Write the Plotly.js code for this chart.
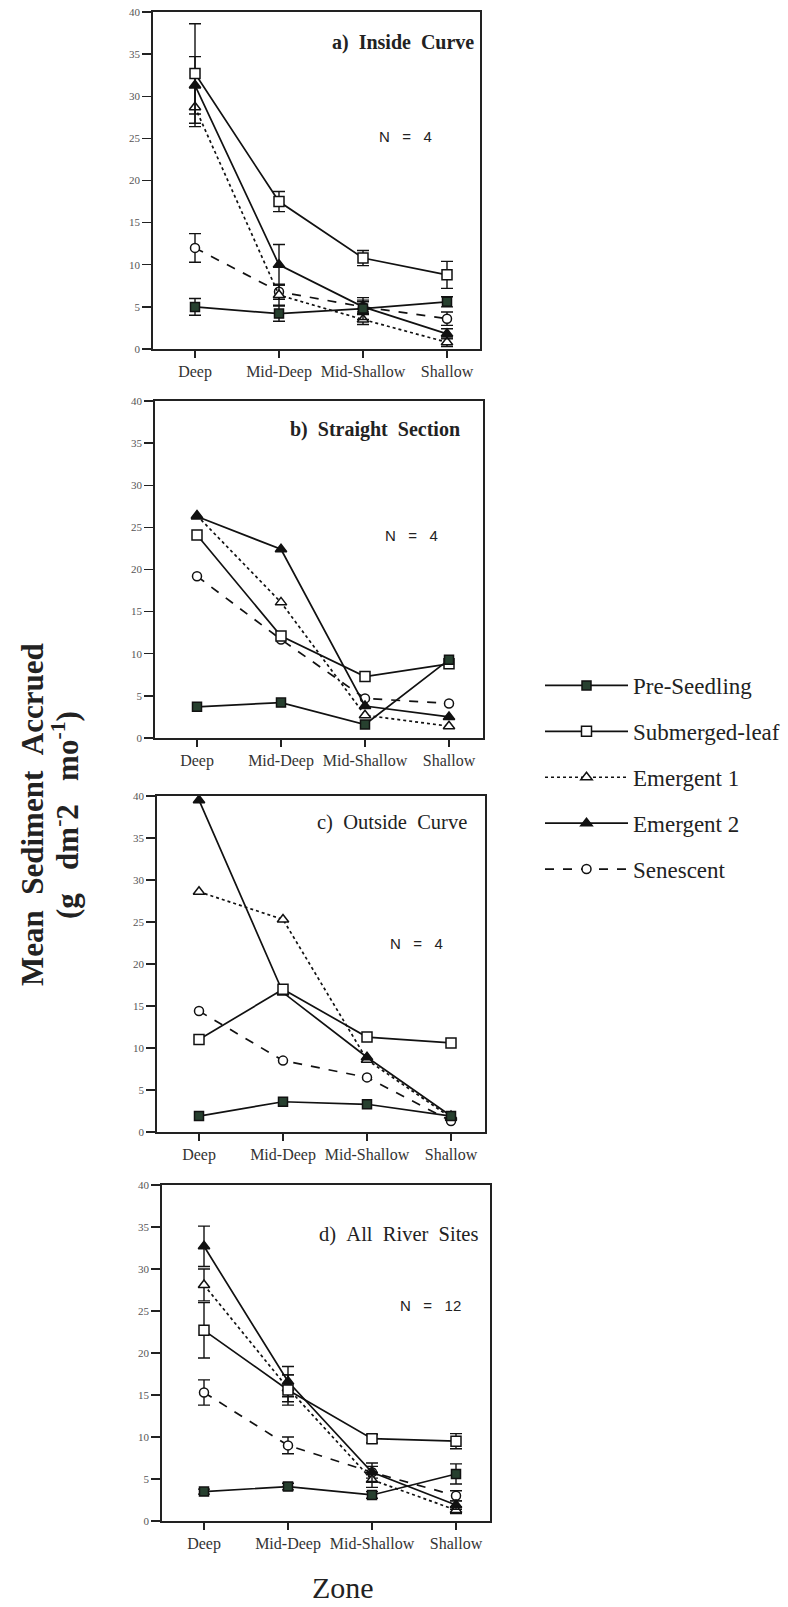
<!DOCTYPE html>
<html>
<head>
<meta charset="utf-8">
<script src="https://cdn.plot.ly/plotly-3.0.1.min.js"></script>
<style>html,body{margin:0;padding:0;background:#fff;overflow:hidden;}#chart{width:788px;height:1607px;}</style>
</head>
<body>
<div id="chart"></div>
<script>
// ---------------- data ----------------
const zones = ['Deep', 'Mid-Deep', 'Mid-Shallow', 'Shallow'];
const seriesNames = ['Pre-Seedling', 'Submerged-leaf', 'Emergent 1', 'Emergent 2', 'Senescent'];
const panelTitles = ['a)  Inside  Curve', 'b)  Straight  Section', 'c)  Outside  Curve', 'd)  All  River  Sites'];
const panelN = ['N   =   4', 'N   =   4', 'N   =   4', 'N   =   12'];
const yTicks = [0, 5, 10, 15, 20, 25, 30, 35, 40];

// a) Inside Curve
const preA = [5.0, 4.2, 4.8, 5.6];      const preAerr = [1.0, 0.9, 1.3, 0.6];
const subA = [32.7, 17.5, 10.8, 8.8];   const subAerr = [5.9, 1.2, 0.9, 1.6];
const e1A  = [28.7, 6.4, 3.5, 0.8];     const e1Aerr  = [2.3, 1.2, 0.6, 0.5];
const e2A  = [31.3, 10.0, 5.0, 1.8];    const e2Aerr  = [3.4, 2.4, 0.8, 0.6];
const senA = [12.0, 6.8, 5.0, 3.6];     const senAerr = [1.7, 0.9, 0.6, 0.8];

// b) Straight Section
const preB = [3.7, 4.2, 1.6, 9.3];
const subB = [24.1, 12.1, 7.3, 8.8];
const e1B  = [26.4, 16.1, 2.7, 1.4];
const e2B  = [26.3, 22.4, 3.8, 2.5];
const senB = [19.2, 11.7, 4.7, 4.1];

// c) Outside Curve
const preC = [1.9, 3.6, 3.3, 1.9];
const subC = [11.0, 17.0, 11.3, 10.6];
const e1C  = [28.6, 25.3, 8.6, 1.7];
const e2C  = [39.5, 16.6, 8.9, 1.9];
const senC = [14.4, 8.5, 6.5, 1.3];

// d) All River Sites
const preD = [3.5, 4.1, 3.1, 5.6];      const preDerr = [0.3, 0.4, 0.4, 1.2];
const subD = [22.7, 15.6, 9.8, 9.5];    const subDerr = [3.3, 1.8, 0.5, 0.9];
const e1D  = [28.1, 15.8, 4.9, 1.3];    const e1Derr  = [1.9, 1.6, 0.9, 0.4];
const e2D  = [32.7, 16.6, 5.8, 1.9];    const e2Derr  = [2.4, 1.8, 1.1, 0.5];
const senD = [15.3, 9.0, 5.8, 3.0];     const senDerr = [1.5, 1.0, 0.7, 0.6];

// ---------------- styling ----------------
const W = 788, H = 1607;
const SERIF = 'Liberation Serif, Times New Roman, serif';
const SANS = 'Liberation Sans, Arial, sans-serif';
const nb = s => s.replace(/ /g, '&nbsp;');
const styles = [
  {dash: 'solid', symbol: 'square', fill: '#27402f', size: 9},
  {dash: 'solid', symbol: 'square', fill: '#ffffff', size: 10},
  {dash: 'dot', symbol: 'triangle-up', fill: '#ffffff', size: 10},
  {dash: 'solid', symbol: 'triangle-up', fill: '#111111', size: 10},
  {dash: 'dash', symbol: 'circle', fill: '#ffffff', size: 9}
];

const panels = [
  {vals: [preA, subA, e1A, e2A, senA], errs: [preAerr, subAerr, e1Aerr, e2Aerr, senAerr]},
  {vals: [preB, subB, e1B, e2B, senB], errs: null},
  {vals: [preC, subC, e1C, e2C, senC], errs: null},
  {vals: [preD, subD, e1D, e2D, senD], errs: [preDerr, subDerr, e1Derr, e2Derr, senDerr]}
];

// pixel boxes of each panel: left, top, bottom, right
const boxes = [
  {l: 153, t: 12, b: 349, r: 480},
  {l: 155, t: 401, b: 738, r: 483},
  {l: 157, t: 796, b: 1132, r: 485},
  {l: 162, t: 1185, b: 1521, r: 490}
];
const unitPx = 84;
const xMin = -0.5;

const xIdx = zones.map((z, i) => i);
const traces = [];
const order = [4, 2, 3, 1, 0]; // draw order; legend uses legendrank
panels.forEach((p, pi) => {
  const xa = pi === 0 ? 'x' : 'x' + (pi + 1);
  const ya = pi === 0 ? 'y' : 'y' + (pi + 1);
  order.forEach(si => {
    const st = styles[si];
    const tr = {
      type: 'scatter', mode: 'lines+markers',
      x: xIdx, y: p.vals[si], xaxis: xa, yaxis: ya,
      name: seriesNames[si], legendgroup: seriesNames[si], legendrank: si + 1,
      showlegend: pi === 0,
      line: {color: '#111', width: 1.7, dash: st.dash},
      marker: {symbol: st.symbol, size: st.size, color: st.fill, line: {color: '#111', width: 1.5}},
      cliponaxis: false
    };
    if (p.errs) {
      tr.error_y = {type: 'data', array: p.errs[si], visible: true, color: '#111', thickness: 1.4, width: 6};
    }
    traces.push(tr);
  });
});

const layout = {
  width: W, height: H,
  margin: {l: 0, r: 0, t: 0, b: 0},
  paper_bgcolor: '#fff', plot_bgcolor: '#fff',
  showlegend: true,
  legend: {
    x: 540 / W, y: 1 - 664 / H, xanchor: 'left', yanchor: 'top',
    font: {family: SERIF, size: 23, color: '#222'},
    tracegroupgap: 13, traceorder: 'grouped', bgcolor: 'rgba(0,0,0,0)', itemwidth: 83
  },
  annotations: [],
  font: {family: SERIF, color: '#333'}
};

boxes.forEach((bx, pi) => {
  const sfx = pi === 0 ? '' : String(pi + 1);
  const xMax = xMin + (bx.r - bx.l) / unitPx;
  layout['xaxis' + sfx] = {
    domain: [bx.l / W, bx.r / W],
    anchor: 'y' + sfx, range: [xMin, xMax],
    tickmode: 'array', tickvals: xIdx, ticktext: zones,
    ticks: 'outside', ticklen: 7, tickwidth: 1.4, tickcolor: '#222',
    showline: true, linecolor: '#222', linewidth: 1.7, mirror: true,
    showgrid: false, zeroline: false,
    tickfont: {family: SERIF, size: 16, color: '#333'}
  };
  layout['yaxis' + sfx] = {
    domain: [1 - bx.b / H, 1 - bx.t / H],
    anchor: 'x' + sfx, range: [0, 40],
    tickmode: 'array', tickvals: yTicks,
    ticks: 'outside', ticklen: 9, tickwidth: 1.4, tickcolor: '#222',
    showline: true, linecolor: '#222', linewidth: 1.7, mirror: true,
    showgrid: false, zeroline: false,
    tickfont: {family: SERIF, size: 11, color: '#555'}
  };
});

// panel titles (left edge) and N labels (right edge)
const titlePos = [
  {x: 330, y: 43, bold: true}, {x: 288, y: 430, bold: true},
  {x: 315, y: 822, bold: false}, {x: 317, y: 1234, bold: false}
];
const nPos = [
  {x: 434, y: 137}, {x: 440, y: 535}, {x: 445, y: 943}, {x: 463, y: 1305}
];
panelTitles.forEach((t, i) => {
  const tp = titlePos[i];
  layout.annotations.push({
    text: tp.bold ? '<b>' + nb(t) + '</b>' : nb(t), xref: 'paper', yref: 'paper',
    x: tp.x / W, y: 1 - tp.y / H, xanchor: 'left', yanchor: 'middle',
    showarrow: false, font: {family: SERIF, size: tp.bold ? 20 : 20.5, color: '#222'}
  });
  layout.annotations.push({
    text: nb(panelN[i]), xref: 'paper', yref: 'paper',
    x: nPos[i].x / W, y: 1 - nPos[i].y / H, xanchor: 'right', yanchor: 'middle',
    showarrow: false, font: {family: SANS, size: 15, color: '#222'}
  });
});

// axis titles
layout.annotations.push({
  text: '<b>' + nb('Mean  Sediment  Accrued') + '</b>', xref: 'paper', yref: 'paper',
  x: 32 / W, y: 1 - 815 / H, xanchor: 'center', yanchor: 'middle', textangle: -90,
  showarrow: false, font: {family: SERIF, size: 31, color: '#222'}
});
layout.annotations.push({
  text: '<b>(g&nbsp;&nbsp;&nbsp;dm<sup>-</sup>2&nbsp;&nbsp;&nbsp;mo<sup>-1</sup>)</b>', xref: 'paper', yref: 'paper',
  x: 65 / W, y: 1 - 815 / H, xanchor: 'center', yanchor: 'middle', textangle: -90,
  showarrow: false, font: {family: SERIF, size: 31, color: '#222'}
});
layout.annotations.push({
  text: 'Zone', xref: 'paper', yref: 'paper',
  x: 343 / W, y: 1 - 1587 / H, xanchor: 'center', yanchor: 'middle',
  showarrow: false, font: {family: SERIF, size: 30, color: '#222'}
});

Plotly.newPlot('chart', traces, layout, {staticPlot: true, displayModeBar: false});
</script>
</body>
</html>
